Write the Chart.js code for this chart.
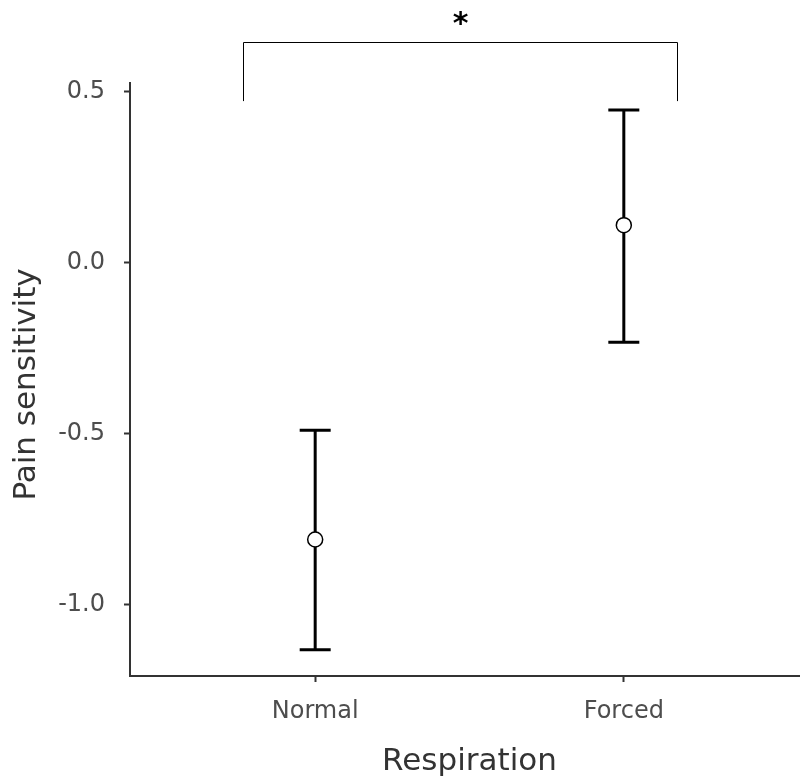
<!DOCTYPE html>
<html>
<head>
<meta charset="utf-8">
<title>Pain sensitivity by respiration</title>
<script src="https://cdn.jsdelivr.net/npm/chart.js"></script>
<style>
  html, body { margin: 0; padding: 0; background: #fff; overflow: hidden; }
  #wrap { position: absolute; left: 0; top: 0; width: 809px; height: 785px; }
</style>
</head>
<body>
<div id="wrap"><canvas id="painChart" width="809" height="785"></canvas></div>
<script>
// Grupos y valores (media y extremos del intervalo)
const categories = ['Normal', 'Forced'];
const means = [-0.81, 0.11];
const lower = [-1.133, -0.233];
const upper = [-0.49, 0.447];
const yTicks = [-1.0, -0.5, 0.0, 0.5];

// Corchete de significancia entre los dos grupos
const bracketX = [0.767, 2.172];
const bracketY = [0.473, 0.646];
const bracketLabel = '*';

const FONT = "'DejaVu Sans', sans-serif";
const AXIS_COLOR = '#333333';

// Barras de error dibujadas con las escalas del gráfico
const errorBars = {
    id: 'errorBars',
    beforeDatasetsDraw(chart) {
        const { ctx, scales: { x, y } } = chart;
        ctx.save();
        ctx.strokeStyle = '#000';
        ctx.lineWidth = 3;
        ctx.lineCap = 'butt';
        categories.forEach((c, i) => {
            const px = x.getPixelForValue(i + 1);
            const top = y.getPixelForValue(upper[i]);
            const bot = y.getPixelForValue(lower[i]);
            const half = 15.5;
            ctx.beginPath();
            ctx.moveTo(px, top);
            ctx.lineTo(px, bot);
            ctx.moveTo(px - half, top);
            ctx.lineTo(px + half, top);
            ctx.moveTo(px - half, bot);
            ctx.lineTo(px + half, bot);
            ctx.stroke();
        });
        ctx.restore();
    }
};

// Corchete y asterisco por encima del panel
const sigBracket = {
    id: 'sigBracket',
    afterDraw(chart) {
        const { ctx, scales: { x, y } } = chart;
        const x0 = Math.round(x.getPixelForValue(bracketX[0])) + 0.5;
        const x1 = Math.round(x.getPixelForValue(bracketX[1])) + 0.5;
        const yLow = y.getPixelForValue(bracketY[0]);
        const yHigh = Math.round(y.getPixelForValue(bracketY[1])) + 0.5;
        ctx.save();
        ctx.strokeStyle = '#000';
        ctx.lineWidth = 1;
        ctx.beginPath();
        ctx.moveTo(x0, yLow);
        ctx.lineTo(x0, yHigh);
        ctx.lineTo(x1, yHigh);
        ctx.lineTo(x1, yLow);
        ctx.stroke();
        ctx.fillStyle = '#000';
        ctx.font = 'bold 30px ' + FONT;
        ctx.textAlign = 'center';
        ctx.textBaseline = 'middle';
        ctx.fillText(bracketLabel, (x0 + x1) / 2, yHigh - 17);
        ctx.restore();
    }
};

const ctx = document.getElementById('painChart');
new Chart(ctx, {
    type: 'scatter',
    data: {
        datasets: [{
            data: means.map((m, i) => ({ x: i + 1, y: m })),
            pointRadius: 7.5,
            pointHoverRadius: 7.5,
            pointBackgroundColor: '#fff',
            pointBorderColor: '#000',
            pointBorderWidth: 1.5
        }]
    },
    options: {
        responsive: false,
        animation: false,
        devicePixelRatio: 1,
        layout: {
            autoPadding: false,
            padding: { top: 83, left: 0, right: 0, bottom: 0 }
        },
        plugins: {
            legend: { display: false },
            tooltip: { enabled: false }
        },
        scales: {
            x: {
                type: 'linear',
                min: 0.4,
                max: 2.6,
                afterFit(scale) {
                    scale.height = 109;
                    scale.paddingLeft = 0;
                    scale.paddingRight = 0;
                },
                afterBuildTicks(scale) {
                    scale.ticks = categories.map((c, i) => ({ value: i + 1 }));
                },
                ticks: {
                    callback: (v) => categories[v - 1],
                    color: '#4d4d4d',
                    font: { family: FONT, size: 24 },
                    padding: 15,
                    maxRotation: 0
                },
                grid: {
                    drawOnChartArea: false,
                    drawTicks: true,
                    tickLength: 6,
                    tickWidth: 2,
                    color: AXIS_COLOR
                },
                border: { color: AXIS_COLOR, width: 2 },
                title: {
                    display: true,
                    text: 'Respiration',
                    color: '#333',
                    font: { family: FONT, size: 31 },
                    padding: { top: 0, bottom: 4 }
                }
            },
            y: {
                min: -1.2096,
                max: 0.526,
                afterFit(scale) {
                    scale.width = 130;
                    scale.paddingTop = 0;
                    scale.paddingBottom = 0;
                },
                afterBuildTicks(scale) {
                    scale.ticks = yTicks.map(v => ({ value: v }));
                },
                ticks: {
                    callback: (v) => v.toFixed(1),
                    color: '#4d4d4d',
                    font: { family: FONT, size: 24 },
                    padding: 19
                },
                grid: {
                    drawOnChartArea: false,
                    drawTicks: true,
                    tickLength: 6,
                    tickWidth: 2,
                    color: AXIS_COLOR
                },
                border: { color: AXIS_COLOR, width: 2 },
                title: {
                    display: true,
                    text: 'Pain sensitivity ',
                    color: '#333',
                    font: { family: FONT, size: 31 },
                    padding: { top: 8, bottom: 0 }
                }
            }
        }
    },
    plugins: [errorBars, sigBracket]
});
</script>
</body>
</html>
